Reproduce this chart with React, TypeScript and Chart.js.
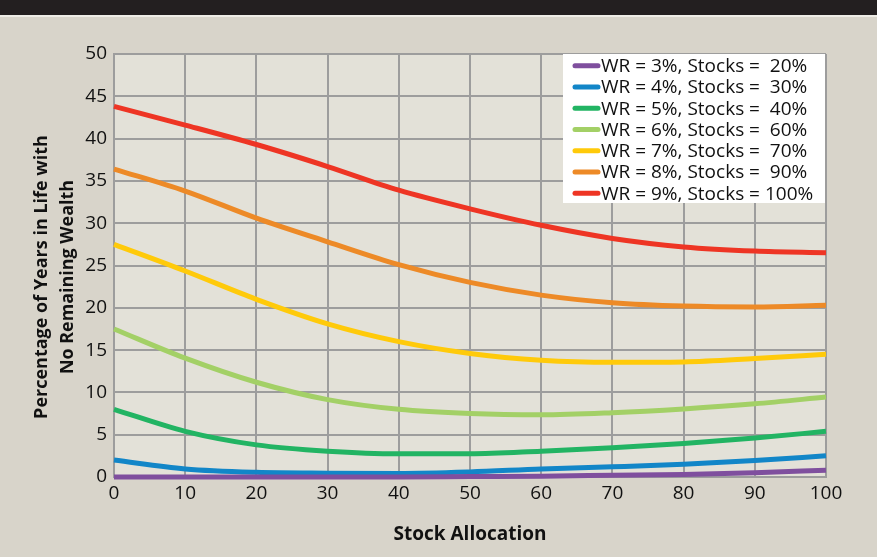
import React, { useEffect, useRef } from 'react';
import { Chart, registerables } from 'chart.js';

Chart.register(...registerables);

// Stock allocation (%) along the x axis
const allocations = [0, 10, 20, 30, 40, 50, 60, 70, 80, 90, 100];

// Percentage of years in life with no remaining wealth, one array per withdrawal rate
const wr3 = [0, 0, 0, 0, 0, 0.05, 0.1, 0.2, 0.3, 0.5, 0.8];
const wr4 = [2.0, 0.95, 0.55, 0.45, 0.42, 0.6, 0.95, 1.2, 1.5, 1.95, 2.5];
const wr5 = [8.0, 5.4, 3.8, 3.05, 2.75, 2.75, 3.05, 3.45, 3.95, 4.6, 5.4];
const wr6 = [17.5, 14.05, 11.2, 9.15, 8.0, 7.5, 7.35, 7.6, 8.05, 8.65, 9.45];
const wr7 = [27.5, 24.35, 21.0, 18.1, 16.0, 14.6, 13.8, 13.55, 13.6, 14.0, 14.5];
const wr8 = [36.4, 33.8, 30.6, 27.8, 25.1, 23.0, 21.5, 20.6, 20.2, 20.1, 20.3];
const wr9 = [43.8, 41.6, 39.3, 36.7, 33.9, 31.7, 29.75, 28.2, 27.2, 26.7, 26.5];

const seriesValues = [wr3, wr4, wr5, wr6, wr7, wr8, wr9];
const seriesLabels = [
  'WR = 3%, Stocks =  20%',
  'WR = 4%, Stocks =  30%',
  'WR = 5%, Stocks =  40%',
  'WR = 6%, Stocks =  60%',
  'WR = 7%, Stocks =  70%',
  'WR = 8%, Stocks =  90%',
  'WR = 9%, Stocks = 100%',
];
const seriesColors = ['#7f4f9e', '#1286c8', '#22b463', '#a3d066', '#ffca0a', '#ed8a27', '#ee3524'];

const yTitleLines = ['Percentage of Years in Life with', 'No Remaining Wealth'];
const xTitle = 'Stock Allocation';

const FONT = '"Open Sans", "Noto Sans", sans-serif';

// Fills the plotting area with a lighter paper tone
const plotBackground = {
  id: 'plotBackground',
  beforeDraw(chart: any) {
    const { ctx, chartArea } = chart;
    ctx.save();
    ctx.fillStyle = '#e3e1d8';
    ctx.fillRect(chartArea.left, chartArea.top, chartArea.right - chartArea.left, chartArea.bottom - chartArea.top);
    ctx.restore();
  },
};

// Two-line rotated title for the y axis
const yAxisTitle = {
  id: 'yAxisTitle',
  afterDraw(chart: any) {
    const { ctx } = chart;
    ctx.save();
    ctx.fillStyle = '#111111';
    ctx.font = `bold 18px ${FONT}`;
    ctx.textAlign = 'center';
    ctx.textBaseline = 'middle';
    const centerY = 277;
    const xs = [42, 68];
    yTitleLines.forEach((line, i) => {
      ctx.save();
      ctx.translate(xs[i], centerY);
      ctx.rotate(-Math.PI / 2);
      ctx.fillText(line, 0, 0, i === 0 ? 292 : 194);
      ctx.restore();
    });
    ctx.restore();
  },
};

// Boxed legend inside the top-right corner of the plot
const insetLegend = {
  id: 'insetLegend',
  afterDatasetsDraw(chart: any) {
    const { ctx, chartArea } = chart;
    const left = 563;
    const right = chartArea.right - 1;
    const top = chartArea.top;
    const bottom = 203;
    ctx.save();
    ctx.fillStyle = '#ffffff';
    ctx.fillRect(left, top, right - left, bottom - top);
    const rowStart = 65.7;
    const rowStep = 21.27;
    chart.data.datasets.forEach((ds: any, i: number) => {
      const y = rowStart + i * rowStep;
      ctx.strokeStyle = ds.borderColor;
      ctx.lineWidth = 5;
      ctx.lineCap = 'round';
      ctx.beginPath();
      ctx.moveTo(575, y);
      ctx.lineTo(598, y);
      ctx.stroke();
      ctx.fillStyle = '#111111';
      ctx.font = `19px ${FONT}`;
      ctx.textAlign = 'left';
      ctx.textBaseline = 'middle';
      const w = i === 6 ? 214 : 207;
      ctx.fillText(ds.label, 601, y + 1, w);
    });
    ctx.restore();
  },
};

export default function App() {
  const canvasRef = useRef<HTMLCanvasElement | null>(null);

  useEffect(() => {
    document.body.style.margin = '0';
    const canvas = canvasRef.current;
    if (!canvas) return;
    const chart = new Chart(canvas, {
      type: 'line',
      data: {
        datasets: seriesValues.map((vals, i) => ({
          label: seriesLabels[i],
          data: vals.map((v, j) => ({ x: allocations[j], y: v })),
          borderColor: seriesColors[i],
          backgroundColor: seriesColors[i],
          borderWidth: 5,
          pointRadius: 0,
          pointHoverRadius: 0,
          cubicInterpolationMode: 'monotone',
          fill: false,
          clip: 4,
        })),
      },
      options: {
        animation: false,
        responsive: false,
        devicePixelRatio: 1,
        layout: { padding: { top: 54, right: 51, bottom: 0, left: 0 } },
        plugins: {
          legend: { display: false },
          tooltip: { enabled: false },
        },
        scales: {
          x: {
            type: 'linear',
            min: 0,
            max: 100,
            afterFit: (scale: any) => {
              scale.height = 80;
            },
            ticks: {
              stepSize: 10,
              padding: 5,
              color: '#111111',
              font: { family: FONT, size: 19 },
              maxRotation: 0,
            },
            grid: { color: '#9d9d9d', lineWidth: 2, drawTicks: false },
            border: { color: '#9d9d9d', width: 2 },
            title: {
              display: true,
              text: xTitle,
              color: '#111111',
              font: { family: FONT, size: 19, weight: 'bold' },
              padding: { top: 0, bottom: 11 },
            },
          },
          y: {
            type: 'linear',
            min: 0,
            max: 50,
            afterFit: (scale: any) => {
              scale.width = 114;
            },
            ticks: {
              stepSize: 5,
              padding: 7,
              color: '#111111',
              font: { family: FONT, size: 19 },
            },
            grid: { color: '#9d9d9d', lineWidth: 2, drawTicks: false },
            border: { color: '#9d9d9d', width: 2 },
          },
        },
      },
      plugins: [plotBackground, insetLegend, yAxisTitle],
    } as any);
    return () => chart.destroy();
  }, []);

  return (
    <div style={{ position: 'relative', width: 877, height: 557, background: '#d8d4ca', overflow: 'hidden' }}>
      <div style={{ position: 'absolute', left: 0, top: 0, width: 877, height: 15, background: '#231f20' }} />
      <div style={{ position: 'absolute', left: 0, top: 15, width: 877, height: 2, background: '#eeece6' }} />
      <canvas ref={canvasRef} width={877} height={557} style={{ position: 'absolute', left: 0, top: 0, width: 877, height: 557 }} />
    </div>
  );
}
